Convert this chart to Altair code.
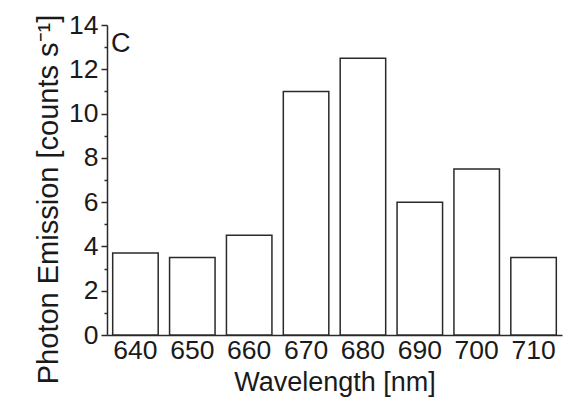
import altair as alt
import pandas as pd

wavelengths = ["640", "650", "660", "670", "680", "690", "700", "710"]
emission = [3.7, 3.5, 4.5, 11.0, 12.5, 6.0, 7.5, 3.5]
y_ticks = list(range(0, 15))

df = pd.DataFrame({"wl": wavelengths, "val": emission})

FONT = "Liberation Sans"

bars = alt.Chart(df).mark_bar(
    fill="white", stroke="#2a2a2a", strokeWidth=1.5
).encode(
    x=alt.X("wl:N", sort=wavelengths,
            scale=alt.Scale(paddingInner=0.2, paddingOuter=0.1),
            axis=alt.Axis(title="Wavelength [nm]", labelAngle=0, ticks=False,
                          labelFont=FONT, labelFontSize=26.5, labelPadding=2,
                          labelColor="#1a1a1a",
                          titleFont=FONT, titleFontSize=27, titleFontWeight="normal",
                          titleColor="#1a1a1a",
                          titleY=55, titleBaseline="alphabetic",
                          domainColor="#2a2a2a", domainWidth=1.5)),
    y=alt.Y("val:Q", scale=alt.Scale(domain=[0, 14], nice=False),
            axis=alt.Axis(title="Photon Emission [counts s⁻¹]", values=y_ticks, grid=False,
                          labelExpr="datum.value % 2 == 0 ? datum.label : ''",
                          tickSize={"condition": {"test": "datum.value % 2 == 1", "value": 3}, "value": 6},
                          tickColor="#2a2a2a", tickWidth=1.5,
                          labelFont=FONT, labelFontSize=26.5, labelPadding=3,
                          labelColor="#1a1a1a",
                          titleFont=FONT, titleFontSize=29, titleFontWeight="normal",
                          titleColor="#1a1a1a",
                          titleAngle=-90, titleX=-50, titleY=174, titleAlign="center",
                          titleBaseline="alphabetic",
                          domainColor="#2a2a2a", domainWidth=1.5)),
)

label = alt.Chart(pd.DataFrame({"t": ["C"]})).mark_text(
    align="left", baseline="alphabetic", fontSize=27, font=FONT, color="#1a1a1a"
).encode(text="t:N", x=alt.value(4), y=alt.value(27))

chart = (bars + label).properties(
    width=455, height=310,
    autosize=alt.AutoSizeParams(type="none"),
    padding={"left": 107, "top": 25, "right": 3, "bottom": 63},
).configure_view(stroke=None)

chart.save("out.html", embed_options={"renderer": "svg", "actions": False})
